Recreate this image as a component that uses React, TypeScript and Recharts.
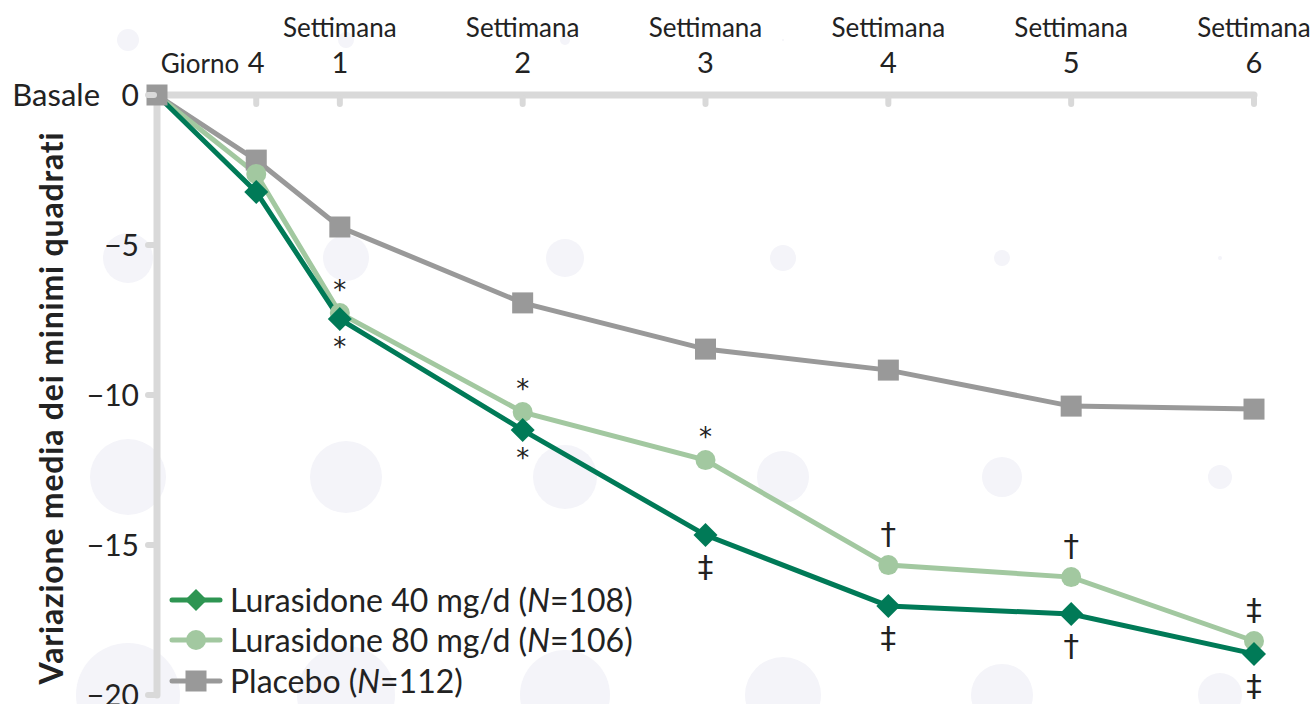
import React from 'react';
import { LineChart, Line, XAxis, YAxis, LabelList } from 'recharts';

// ---- data ----
const dayPositions = [0, 3.8, 7, 14, 21, 28, 35, 42];
const tickTopLabels = ['', 'Giorno', 'Settimana', 'Settimana', 'Settimana', 'Settimana', 'Settimana', 'Settimana'];
const tickBottomLabels = ['', '4', '1', '2', '3', '4', '5', '6'];
const lurasidone40 = [0, -3.23, -7.47, -11.17, -14.67, -17.03, -17.3, -18.63];
const lurasidone80 = [0, -2.63, -7.27, -10.57, -12.17, -15.67, -16.07, -18.2];
const placebo = [0, -2.17, -4.4, -6.93, -8.47, -9.17, -10.37, -10.47];
const sig40 = ['', '', '*', '*', '‡', '‡', '†', '‡'];
const sig80 = ['', '', '*', '*', '*', '†', '†', '‡'];
const yTicks = [0, -5, -10, -15, -20];
const legendNames = ['Lurasidone 40 mg/d', 'Lurasidone 80 mg/d', 'Placebo'];
const legendN = ['108', '106', '112'];

// decorative background bubbles
const bubbleCols = [128, 346, 565, 783, 1002, 1220];
const bubbleRows = [40, 258, 477, 695];
const bubbleRadii = [
  [11, 8, 5, 1, 0, 0],
  [25, 23, 19, 13, 8, 2],
  [38, 36, 32, 26, 20, 12],
  [52, 49, 45, 38, 31, 22],
];

const data = dayPositions.map((day, i) => ({
  day,
  l40: lurasidone40[i],
  l80: lurasidone80[i],
  pbo: placebo[i],
  s40: sig40[i],
  s80: sig80[i],
}));

const C40 = '#007a57';
const C40L = '#2e9552';
const C80 = '#a2c8a0';
const CPBO = '#999999';
const AXIS = '#d9d9d9';
const FONT = 'Lato, "Open Sans", sans-serif';
const SYMFONT = '"DejaVu Sans", sans-serif';
const TEXT = '#222222';

const XTick = (props: any) => {
  const { x, y, index } = props;
  if (index === 0) return <g />;
  const top = tickTopLabels[index];
  const bottom = tickBottomLabels[index];
  return (
    <g>
      <line x1={x} y1={y + 3} x2={x} y2={y + 9} stroke={AXIS} strokeWidth={6} strokeLinecap="round" />
      {index === 1 ? (
        <>
          <text x={x - 17} y={73} textAnchor="end" fontSize={26} fill={TEXT} fontFamily={FONT}>{top}</text>
          <text x={x} y={73} textAnchor="middle" fontSize={29} fill={TEXT} fontFamily={FONT}>{bottom}</text>
        </>
      ) : (
        <>
          <text x={x} y={37} textAnchor="middle" fontSize={26} fill={TEXT} fontFamily={FONT}>{top}</text>
          <text x={x} y={73} textAnchor="middle" fontSize={29} fill={TEXT} fontFamily={FONT}>{bottom}</text>
        </>
      )}
    </g>
  );
};

const YTick = (props: any) => {
  const { x, y, payload } = props;
  const v = payload.value;
  const label = v === 0 ? '0' : '\u2212' + Math.abs(v);
  return (
    <g>
      <line x1={x - 9} y1={y} x2={x - 3} y2={y} stroke={AXIS} strokeWidth={6} strokeLinecap="round" />
      <text x={x - 18} y={y} dy="0.36em" textAnchor="end" fontSize={30} fill={TEXT} fontFamily={FONT}>{label}</text>
      {v === 0 && (
        <text x={100} y={y} dy="0.36em" textAnchor="end" fontSize={31} fill={TEXT} fontFamily={FONT}>Basale</text>
      )}
    </g>
  );
};

const diamond = (cx: number, cy: number, r: number, fill: string, key?: any) => (
  <path key={key} d={`M${cx},${cy - r} L${cx + r},${cy} L${cx},${cy + r} L${cx - r},${cy} Z`} fill={fill} />
);

const Dot40 = (props: any) => {
  const { cx, cy, index } = props;
  if (index === 0) return <g key={`d40-${index}`} />;
  return diamond(cx, cy, 12, C40, `d40-${index}`);
};
const Dot80 = (props: any) => {
  const { cx, cy, index } = props;
  if (index === 0) return <g key={`d80-${index}`} />;
  return <circle key={`d80-${index}`} cx={cx} cy={cy} r={10} fill={C80} />;
};
const DotPbo = (props: any) => {
  const { cx, cy, index } = props;
  return <rect key={`dp-${index}`} x={cx - 10.5} y={cy - 10.5} width={21} height={21} fill={CPBO} />;
};

const symShift = (s: string) => (s === '*' ? 15 : 11);

const SymText = ({ x, y, value }: any) => (
  <text x={x} y={y} textAnchor="middle" fontSize={value === '*' ? 26 : 31} fill={TEXT} fontFamily={SYMFONT}>
    {value}
  </text>
);

const LabelAbove = (props: any) => {
  const { x, y, value } = props;
  if (!value) return null;
  const center = y - (value === '*' ? 29 : 32);
  return <SymText x={x} y={center + symShift(value)} value={value} />;
};
const LabelBelow = (props: any) => {
  const { x, y, value } = props;
  if (!value) return null;
  const center = y + (value === '*' ? 22 : 31);
  return <SymText x={x} y={center + symShift(value)} value={value} />;
};

const LegendBox = () => {
  const colors = [C40L, C80, CPBO];
  const rowY = [600, 640, 681];
  return (
    <svg width={1314} height={704} style={{ position: 'absolute', left: 0, top: 0, pointerEvents: 'none' }}>
      {legendNames.map((name, i) => {
        const y = rowY[i];
        let marker;
        if (i === 0) marker = diamond(196, y, 11, C40L);
        else if (i === 1) marker = <circle cx={196} cy={y} r={10} fill={C80} />;
        else marker = <rect x={185.5} y={y - 10.5} width={21} height={21} fill={CPBO} />;
        return (
          <g key={name}>
            <line x1={172} y1={y} x2={220} y2={y} stroke={colors[i]} strokeWidth={5} strokeLinecap="round" />
            {marker}
            <text x={230} y={y} dy="0.36em" fontSize={32} fill={TEXT} fontFamily={FONT}>
              {name} (<tspan fontStyle="italic">N</tspan>={legendN[i]})
            </text>
          </g>
        );
      })}
    </svg>
  );
};

export default function App() {
  return (
    <div style={{ position: 'absolute', left: 0, top: 0, width: 1314, height: 704, background: '#fff', overflow: 'hidden' }}>
      <svg width={1314} height={704} style={{ position: 'absolute', left: 0, top: 0 }}>
        {bubbleRows.map((cy, r) =>
          bubbleCols.map((cx, c) =>
            bubbleRadii[r][c] > 0 ? (
              <circle key={`b${r}-${c}`} cx={cx} cy={cy} r={bubbleRadii[r][c]} fill="#f4f4f9" />
            ) : null
          )
        )}
        <text
          transform="translate(63,408) rotate(-90)"
          textAnchor="middle"
          fontSize={32}
          fontWeight={700}
          letterSpacing={0.8}
          fill={TEXT}
          fontFamily={FONT}
        >
          Variazione media dei minimi quadrati
        </text>
      </svg>
      <div style={{ position: 'absolute', left: 0, top: 0 }}>
        <LineChart width={1314} height={704} data={data} margin={{ top: 0, right: 60, bottom: 9, left: 0 }}>
          <XAxis
            dataKey="day"
            type="number"
            domain={[0, 42]}
            ticks={dayPositions}
            orientation="top"
            height={95}
            tickSize={0}
            tickMargin={0}
            tickLine={false}
            axisLine={{ stroke: AXIS, strokeWidth: 7, strokeLinecap: 'round' }}
            tick={<XTick />}
            interval={0}
          />
          <YAxis
            type="number"
            domain={[-20, 0]}
            ticks={yTicks}
            width={157}
            tickSize={0}
            tickMargin={0}
            tickLine={false}
            axisLine={{ stroke: AXIS, strokeWidth: 7, strokeLinecap: 'round' }}
            tick={<YTick />}
            interval={0}
          />
          <Line
            dataKey="pbo"
            stroke={CPBO}
            strokeWidth={5}
            dot={<DotPbo />}
            activeDot={false}
            isAnimationActive={false}
          />
          <Line
            dataKey="l80"
            stroke={C80}
            strokeWidth={5}
            dot={<Dot80 />}
            activeDot={false}
            isAnimationActive={false}
          >
            <LabelList dataKey="s80" content={<LabelAbove />} />
          </Line>
          <Line
            dataKey="l40"
            stroke={C40}
            strokeWidth={5}
            dot={<Dot40 />}
            activeDot={false}
            isAnimationActive={false}
          >
            <LabelList dataKey="s40" content={<LabelBelow />} />
          </Line>
        </LineChart>
      </div>
      <LegendBox />
    </div>
  );
}
